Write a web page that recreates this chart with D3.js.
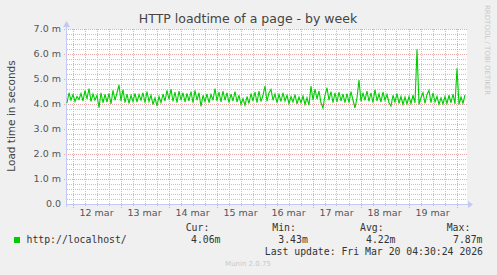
<!DOCTYPE html>
<meta charset="utf-8">
<style>
body { margin: 0; background: #f0f0f0; }
svg { display: block; font-family: "DejaVu Sans", sans-serif; }
.mono { font-family: "DejaVu Sans Mono", monospace; font-size: 9.8px; fill: #333; }
</style>
<svg></svg>
<script src="https://cdn.jsdelivr.net/npm/d3@7"></script>
<script>

var width = 497,
    height = 275

// hourly averages, load time in milliseconds, starting Mar 11 21:15
var startTime = Date.UTC(2026, 2, 11, 21, 15)
var loadtime = [
  4.04, 4.45, 4.15, 4.38, 4.10, 4.30, 4.18, 4.42, 4.12, 4.55,
  4.20, 4.62, 4.10, 4.40, 4.15, 4.35, 3.85, 4.45, 4.05, 4.38,
  4.08, 4.42, 4.00, 4.55, 4.15, 4.45, 4.76, 4.12, 4.58, 4.05,
  4.40, 4.02, 4.35, 4.10, 4.42, 4.08, 4.38, 4.15, 4.45, 4.05,
  4.50, 4.10, 4.35, 3.98, 4.25, 3.92, 4.30, 4.05, 4.40, 4.12,
  4.55, 4.18, 4.60, 4.10, 4.48, 4.05, 4.52, 4.15, 4.45, 4.08,
  4.42, 4.12, 4.50, 4.05, 4.55, 4.15, 4.45, 3.90, 4.35, 4.10,
  4.40, 4.05, 4.38, 4.15, 4.62, 4.12, 4.48, 4.08, 4.52, 4.15,
  4.45, 4.05, 4.40, 4.12, 4.50, 4.08, 4.35, 3.98, 4.22, 3.95,
  4.30, 4.02, 4.42, 4.12, 4.48, 4.05, 4.52, 4.10, 4.35, 4.72,
  4.10, 4.45, 4.58, 4.15, 4.40, 4.05, 4.38, 4.10, 4.45, 4.12,
  4.35, 4.02, 4.30, 4.08, 4.38, 4.00, 4.28, 4.05, 4.32, 3.98,
  4.25, 3.95, 4.72, 4.15, 4.60, 4.20, 4.52, 4.05, 3.84, 4.35,
  4.65, 4.15, 4.50, 4.05, 4.45, 4.08, 4.48, 4.12, 4.40, 4.05,
  4.42, 4.05, 4.50, 4.15, 3.84, 4.25, 4.96, 4.10, 4.45, 4.15,
  4.52, 4.10, 4.45, 4.05, 4.58, 4.12, 4.40, 4.08, 4.48, 4.15,
  4.38, 4.05, 3.92, 4.35, 4.08, 4.42, 4.02, 4.30, 3.98, 4.28,
  4.00, 4.30, 4.02, 4.35, 4.05, 6.19, 3.98, 4.25, 4.45, 4.02,
  4.38, 4.55, 4.05, 4.45, 4.08, 4.30, 3.98, 4.25, 4.00, 4.30,
  4.02, 4.35, 4.05, 4.40, 4.00, 5.43, 3.98, 4.28, 4.02, 4.36
]
var yTicks = [0, 1, 2, 3, 4, 5, 6, 7]
var dayLabels = ["12 mar", "13 mar", "14 mar", "15 mar", "16 mar", "17 mar", "18 mar", "19 mar"]
var legendHead = ["Cur:", "Min:", "Avg:", "Max:"]
var legendVals = ["4.06m", "3.43m", "4.22m", "7.87m"]

var hour = 3600 * 1000
var data = loadtime.map(function(v, i) { return { t: new Date(startTime + i * hour), v: v }; })

var svg = d3.select("svg").attr("width", width).attr("height", height)
svg.append("rect").attr("width", width).attr("height", height).attr("fill", "#f0f0f0")

var x = d3.scaleUtc()
    .domain([new Date(startTime), new Date(startTime + 200 * hour)])
    .range([67, 467])
var y = d3.scaleLinear().domain([0, 7]).range([204, 29])

svg.append("rect")
    .attr("x", 67).attr("y", 29).attr("width", 400).attr("height", 175)
    .attr("fill", "#fff")

// minor grid
var minorY = d3.range(0, 7.01, 0.2).filter(function(d) { return Math.abs(d - Math.round(d)) > 0.01; })
svg.append("g").selectAll("line").data(minorY).enter().append("line")
    .attr("x1", 67).attr("x2", 467)
    .attr("y1", function(d) { return Math.round(y(d)) + 0.5; })
    .attr("y2", function(d) { return Math.round(y(d)) + 0.5; })
    .attr("stroke", "#c4c4c4").attr("stroke-dasharray", "1,1")

var minorX = d3.utcHour.every(6).range(x.domain()[0], x.domain()[1])
    .filter(function(d) { return d.getUTCHours() != 0; })
svg.append("g").selectAll("line").data(minorX).enter().append("line")
    .attr("x1", function(d) { return Math.round(x(d)) + 0.5; })
    .attr("x2", function(d) { return Math.round(x(d)) + 0.5; })
    .attr("y1", 29).attr("y2", 207)
    .attr("stroke", "#c4c4c4").attr("stroke-dasharray", "1,1")

// major grid
svg.append("g").selectAll("line").data(yTicks.slice(1)).enter().append("line")
    .attr("x1", 64).attr("x2", 467)
    .attr("y1", function(d) { return Math.round(y(d)) + 0.5; })
    .attr("y2", function(d) { return Math.round(y(d)) + 0.5; })
    .attr("stroke", "#eaa8a8").attr("stroke-dasharray", "1,1")

var days = d3.utcDay.range(x.domain()[0], x.domain()[1])
svg.append("g").selectAll("line").data(days).enter().append("line")
    .attr("x1", function(d) { return Math.round(x(d)) + 0.5; })
    .attr("x2", function(d) { return Math.round(x(d)) + 0.5; })
    .attr("y1", 29).attr("y2", 208)
    .attr("stroke", "#eaa8a8").attr("stroke-dasharray", "1,1")

// axes
var axisColor = "#c4c8f4"
svg.append("line").attr("x1", 66).attr("x2", 470).attr("y1", 204.5).attr("y2", 204.5).attr("stroke", axisColor)
svg.append("line").attr("x1", 66.5).attr("x2", 66.5).attr("y1", 207).attr("y2", 25).attr("stroke", axisColor)
svg.append("path").attr("d", "M468,201 L473,204.5 L468,208 Z").attr("fill", axisColor)
svg.append("path").attr("d", "M63,27 L66.5,21 L70,27 Z").attr("fill", axisColor)

svg.append("g").selectAll("text").data(yTicks).enter().append("text")
    .attr("x", 61)
    .attr("y", function(d) { return y(d); })
    .attr("dy", "0.35em")
    .attr("text-anchor", "end")
    .attr("font-size", "9.5px")
    .attr("fill", "#555")
    .text(function(d) { return d == 0 ? "0.0" : d3.format(".1f")(d) + " m"; })

svg.append("g").selectAll("text").data(days).enter().append("text")
    .attr("x", function(d, i) { return x(d3.utcHour.offset(d, 12)); })
    .attr("y", 216)
    .attr("text-anchor", "middle")
    .attr("font-size", "9.5px")
    .attr("fill", "#555")
    .text(function(d, i) { return dayLabels[i]; })

// series
var line = d3.line()
    .x(function(d) { return x(d.t); })
    .y(function(d) { return y(d.v); })
svg.append("path").datum(data)
    .attr("d", line)
    .attr("fill", "none")
    .attr("stroke", "#00cc00")
    .attr("stroke-width", 1.1)

// titles
svg.append("text").attr("x", 248).attr("y", 23).attr("text-anchor", "middle")
    .attr("font-size", "12.5px").attr("fill", "#444")
    .text("HTTP loadtime of a page - by week")
svg.append("text").attr("transform", "translate(15,116) rotate(-90)").attr("text-anchor", "middle")
    .attr("font-size", "10.5px").attr("fill", "#444")
    .text("Load time in seconds")
svg.append("text").attr("transform", "translate(485,5) rotate(90)")
    .attr("font-size", "7px").attr("fill", "#c8c8c8")
    .text("RRDTOOL / TOBI OETIKER")

// legend
svg.append("rect").attr("x", 14).attr("y", 237).attr("width", 6).attr("height", 6).attr("fill", "#00cc00")
svg.append("text").attr("class", "mono").attr("x", 26.5).attr("y", 243).text("http://localhost/")
var headX = [185.7, 272.3, 360, 446.7]
var valX = [191, 278.3, 366, 453]
svg.append("g").selectAll("text").data(legendHead).enter().append("text")
    .attr("class", "mono").attr("x", function(d, i) { return headX[i]; }).attr("y", 231).text(function(d) { return d; })
svg.append("g").selectAll("text").data(legendVals).enter().append("text")
    .attr("class", "mono").attr("x", function(d, i) { return valX[i]; }).attr("y", 243).text(function(d) { return d; })
svg.append("text").attr("class", "mono").attr("x", 483).attr("y", 255).attr("text-anchor", "end")
    .text("Last update: Fri Mar 20 04:30:24 2026")
svg.append("text").attr("x", 248).attr("y", 266).attr("text-anchor", "middle")
    .attr("font-size", "7px").attr("fill", "#c8c8c8")
    .text("Munin 2.0.75")

</script>
